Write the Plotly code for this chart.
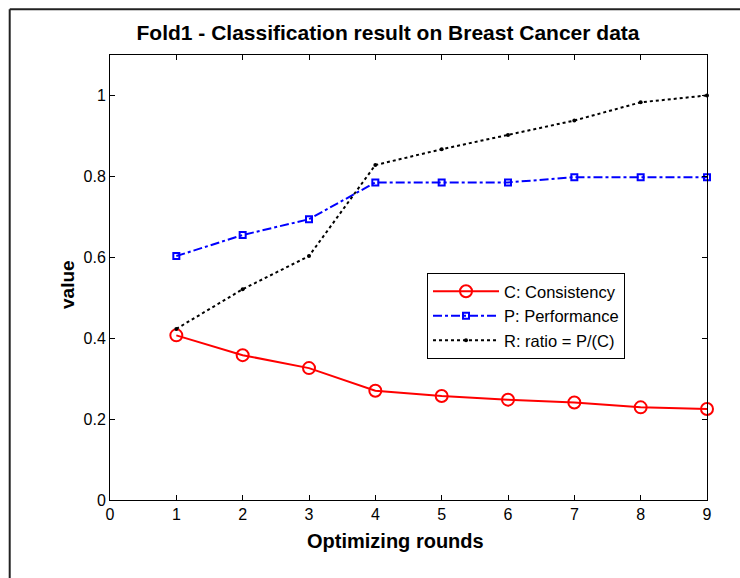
import plotly.graph_objects as go

rounds = [1, 2, 3, 4, 5, 6, 7, 8, 9]
consistency = [0.407, 0.358, 0.326, 0.270, 0.257, 0.248, 0.241, 0.229, 0.225]
performance = [0.603, 0.655, 0.694, 0.785, 0.785, 0.785, 0.798, 0.798, 0.798]
ratio = [0.423, 0.521, 0.603, 0.828, 0.867, 0.902, 0.938, 0.983, 1.0]

x_ticks = [0, 1, 2, 3, 4, 5, 6, 7, 8, 9]
y_ticks = [0, 0.2, 0.4, 0.6, 0.8, 1.0]
y_ticktext = ["0", "0.2", "0.4", "0.6", "0.8", "1"]

FONT = "Liberation Sans, Arial, sans-serif"

fig = go.Figure()
fig.add_trace(go.Scatter(
    x=rounds, y=consistency, name="C: Consistency", mode="lines+markers",
    line=dict(color="#ff0000", width=2, dash="solid"),
    marker=dict(symbol="circle-open", size=12, color="#ff0000", line=dict(width=2, color="#ff0000")),
    cliponaxis=False,
))
fig.add_trace(go.Scatter(
    x=rounds, y=performance, name="P: Performance", mode="lines+markers",
    line=dict(color="#0000ff", width=2, dash="dashdot"),
    marker=dict(symbol="square-open", size=6, color="#0000ff", line=dict(width=2, color="#0000ff")),
    cliponaxis=False,
))
fig.add_trace(go.Scatter(
    x=rounds, y=ratio, name="R: ratio = P/(C)", mode="lines+markers",
    line=dict(color="#000000", width=2, dash="dot"),
    marker=dict(symbol="circle", size=4, color="#000000"),
    cliponaxis=False,
))

axis_common = dict(
    showgrid=False, zeroline=False, showline=True, linecolor="black", linewidth=1,
    mirror="ticks", ticks="inside", ticklen=5, tickcolor="black", tickwidth=1,
    tickfont=dict(family=FONT, size=16, color="black"),
)

fig.update_layout(
    width=740, height=578,
    margin=dict(l=110, r=33, t=55, b=78),
    paper_bgcolor="white", plot_bgcolor="white",
    font=dict(family=FONT, color="black"),
    title=dict(text="<b>Fold1 - Classification result on Breast Cancer data</b>",
               x=388 / 740, xanchor="center", y=1 - 33 / 578, yanchor="middle",
               font=dict(family=FONT, size=21, color="black")),
    xaxis=dict(range=[0, 9], tickvals=x_ticks, **axis_common),
    yaxis=dict(range=[0, 1.1], tickvals=y_ticks, ticktext=y_ticktext, **axis_common),
    legend=dict(x=0.531, y=0.510, xanchor="left", yanchor="top",
                bgcolor="white", bordercolor="black", borderwidth=1,
                font=dict(family=FONT, size=16.5, color="black"),
                itemwidth=66, tracegroupgap=0),
    showlegend=True,
    annotations=[
        dict(text="<b>Optimizing rounds</b>", xref="paper", yref="paper",
             x=(395 - 110) / 597, y=(500 - 541) / 445, xanchor="center", yanchor="middle",
             showarrow=False, font=dict(family=FONT, size=20, color="black")),
        dict(text="<b>value</b>", xref="paper", yref="paper", textangle=-90,
             x=(67 - 110) / 597, y=(500 - 285) / 445, xanchor="center", yanchor="middle",
             showarrow=False, font=dict(family=FONT, size=19, color="black")),
    ],
    shapes=[
        dict(type="line", xref="paper", yref="paper", x0=-0.168, x1=-0.168, y0=-0.3, y1=1.103,
             line=dict(color="#222222", width=2)),
        dict(type="line", xref="paper", yref="paper", x0=-0.168, x1=1.2, y0=1.103, y1=1.103,
             line=dict(color="#222222", width=2)),
    ],
)

fig.write_html("out.html")
